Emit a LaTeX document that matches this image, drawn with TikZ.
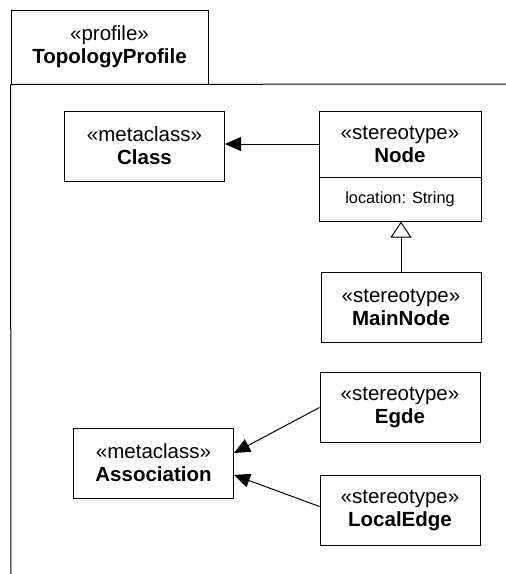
\documentclass[tikz,border=0pt]{standalone}
\usepackage{fontspec}
\setmainfont{Liberation Sans}
\usetikzlibrary{arrows.meta}
\begin{document}
\begin{tikzpicture}[x=1pt,y=-1pt,line width=1pt,
  box/.style={draw,align=center,inner sep=0pt,minimum width=160pt,minimum height=70pt,
    font=\fontsize{20.5}{23}\selectfont},
  ext/.style={-{Triangle[length=16pt,width=14pt]}},
  gen/.style={-{Triangle[open,length=16pt,width=21pt]}}]
  \useasboundingbox (0,0) rectangle (506,574);
  % profile frame
  \node[box,minimum width=197pt,minimum height=74pt] (pkg) at (109.5,47) {«profile»\\\textbf{TopologyProfile}};
  \draw (pkg.south west)--(506,84);
  \draw (pkg.south west)--(11,574);
  % classes
  \node[box] (class) at (144.5,146) {«metaclass»\\\textbf{Class}};
  \node[box,minimum width=162pt,minimum height=66pt] (node) at (400,144) {«stereotype»\\\textbf{Node}};
  \node[box,minimum width=162pt,minimum height=44pt,font=\fontsize{16.3}{19}\selectfont] (nodeattr) at (400,199) {location: String};
  \node[box] (mainnode) at (401,307) {«stereotype»\\\textbf{MainNode}};
  \node[box] (egde) at (400,407.5) {«stereotype»\\\textbf{Egde}};
  \node[box] (localedge) at (400,510.5) {«stereotype»\\\textbf{LocalEdge}};
  \node[box] (assoc) at (153.5,463) {«metaclass»\\\textbf{Association}};
  % extensions
  \draw[ext] (node.west)--(node.west -| class.east);
  \draw[gen] (mainnode.north)--(mainnode.north |- nodeattr.south);
  \draw[ext] (egde.west)--([yshift=10pt]assoc.east);
  \draw[ext] ([yshift=4pt]localedge.west)--([yshift=-12pt]assoc.east);
\end{tikzpicture}
\end{document}
